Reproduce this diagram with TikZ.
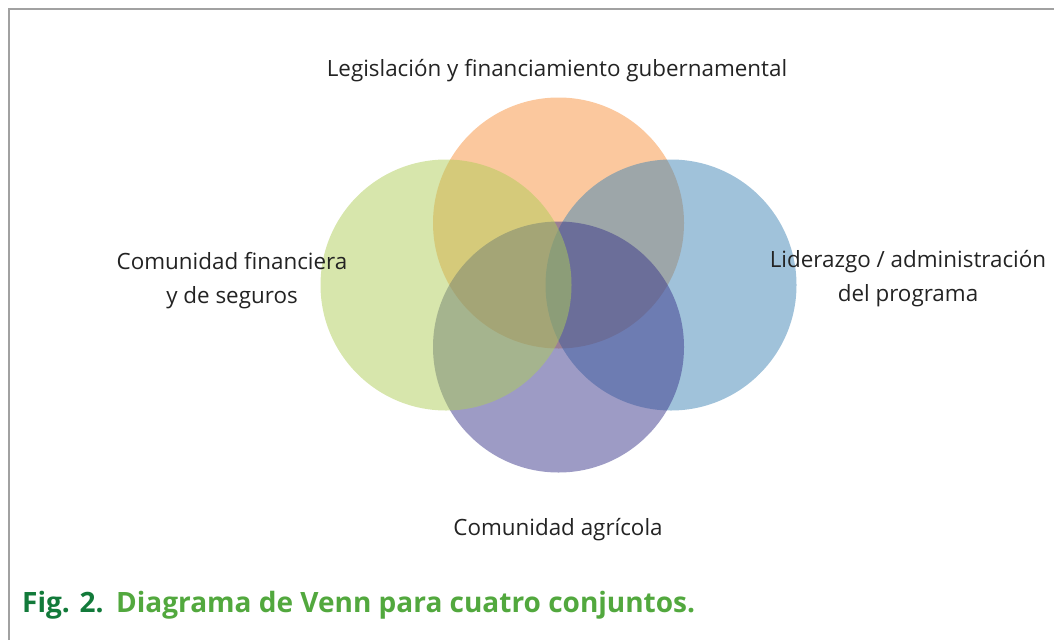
\documentclass[tikz,border=0pt]{standalone}
\usepackage{fontspec}
\setmainfont{Open Sans}
\definecolor{gobcol}{RGB}{247,145,61}
\definecolor{fincol}{RGB}{175,205,89}
\definecolor{lidcol}{RGB}{65,133,181}
\definecolor{agrcol}{RGB}{59,55,139}
\definecolor{figdark}{RGB}{18,122,58}
\definecolor{figlight}{RGB}{82,168,62}
\definecolor{txtcol}{RGB}{35,35,35}
\tikzset{
  venn/.style={circle, minimum size=251pt, inner sep=0pt, fill opacity=0.5},
  lbl/.style={text=txtcol, align=center, font=\fontsize{22.4}{34}\selectfont}
}
\begin{document}
\begin{tikzpicture}[x=1pt, y=-1pt]
      \useasboundingbox (0,0) rectangle (1054,640);
      \draw[color=black!37, line width=1.4pt] (9,640) -- (9,9) -- (1054,9);
      % the four sets
      \draw
        (558.5,223) node[venn, fill=gobcol] (gob){}
        (671,285) node[venn, fill=lidcol] (lid){}
        (558.5,347) node[venn, fill=agrcol] (agr){}
        (446,285) node[venn, fill=fincol] (fin){};
      % labels (base = last line)
      \draw
        (557,76) node[lbl, anchor=base] (gobtxt){Legislación y financiamiento gubernamental}
        (232,303) node[lbl, anchor=base] (fintxt){Comunidad financiera\\y de seguros}
        (908,301) node[lbl, anchor=base] (lidtxt){Liderazgo / administración\\del programa}
        (558,535) node[lbl, anchor=base] (agrtxt){Comunidad agrícola};
      \node[anchor=base west, inner sep=0pt, font=\fontsize{28}{30}\selectfont\bfseries]
        (caption) at (22,612) {\textcolor{figdark}{Fig. 2.}\hspace{0.45em}\textcolor{figlight}{Diagrama de Venn para cuatro conjuntos.}};
    \end{tikzpicture}
\end{document}
